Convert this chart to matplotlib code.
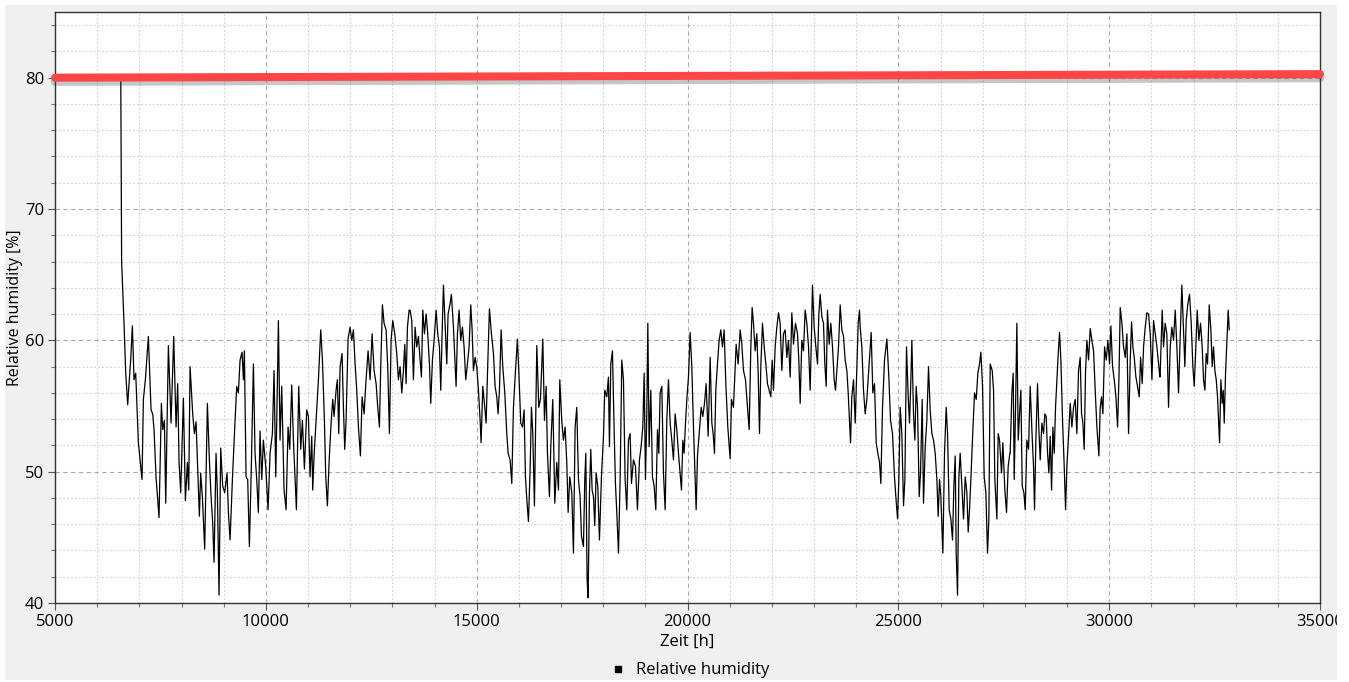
import matplotlib
matplotlib.use('Agg')
import matplotlib.pyplot as plt
import matplotlib.patheffects as pe
from matplotlib.patches import Rectangle
from matplotlib.ticker import MultipleLocator

plt.rcParams['font.family'] = ['Open Sans', 'DejaVu Sans']

# time [h] and relative humidity [%]
zeit = [
    6560, 6580, 6598, 6621, 6637, 6677, 6724, 6756, 6795, 6835, 6874, 6914, 6977, 7017, 7064, 7096,
    7143, 7214, 7278, 7317, 7349, 7396, 7467, 7523, 7554, 7594, 7626, 7689, 7752, 7815, 7871, 7910,
    7942, 7981, 8045, 8092, 8140, 8171, 8203, 8266, 8305, 8345, 8392, 8424, 8455, 8495, 8550, 8614,
    8661, 8701, 8740, 8772, 8819, 8851, 8890, 8930, 8977, 9025, 9080, 9112, 9152, 9207, 9270, 9310,
    9349, 9389, 9436, 9468, 9491, 9531, 9570, 9610, 9657, 9705, 9744, 9784, 9823,
    9863, 9903, 9942, 9997, 10053, 10100, 10156, 10195, 10235, 10258, 10298, 10337, 10377, 10432,
    10480, 10527, 10567, 10614, 10654, 10693, 10725, 10780, 10828, 10867, 10915, 10970, 11010, 11049,
    11089, 11112, 11144, 11191, 11247, 11302, 11342, 11389, 11421, 11460, 11500, 11547, 11587, 11618,
    11666, 11697, 11729, 11761, 11808, 11840, 11871, 11903, 11950, 11998, 12037, 12077, 12117, 12156,
    12196, 12243, 12283, 12330, 12377, 12425, 12472, 12520, 12567, 12615, 12654, 12694, 12725, 12765,
    12804, 12852, 12891, 12931, 12970, 13010, 13057, 13105, 13144, 13184, 13224, 13263, 13295, 13326,
    13358, 13398,
    13421, 13461, 13500, 13540, 13579, 13619, 13658, 13690, 13722, 13761, 13801, 13840, 13880, 13911,
    13951, 13990, 14038, 14077, 14117, 14149, 14180, 14212, 14251, 14291, 14322, 14370, 14401, 14449,
    14488, 14512, 14544, 14583, 14623, 14662, 14702, 14741, 14781, 14820, 14860, 14892, 14923, 14963,
    15002, 15042, 15082, 15105, 15145, 15184, 15224, 15263, 15303, 15350, 15398, 15437, 15477, 15508,
    15540, 15580, 15619, 15667, 15714, 15746, 15793, 15833, 15872, 15912, 15967, 16007, 16046, 16086,
    16125, 16157, 16189, 16228, 16268, 16299, 16331, 16370, 16426, 16473, 16513, 16568, 16608, 16647,
    16679, 16726, 16758, 16805, 16853, 16900, 16940, 16971,
    16979, 17018, 17058, 17098, 17137, 17169, 17208, 17256, 17295, 17335, 17374, 17414, 17453, 17485,
    17532, 17564, 17588, 17619, 17643, 17675, 17706, 17738, 17770, 17801, 17833, 17872, 17912, 17959,
    18007, 18038, 18086, 18125, 18149, 18181, 18220, 18260, 18291, 18323, 18363, 18402, 18442, 18481,
    18521, 18560, 18600, 18639, 18671, 18718, 18766, 18813, 18861, 18900, 18940, 18972, 19003, 19035,
    19059, 19090, 19130, 19169, 19209, 19248, 19288, 19320, 19351, 19391, 19430, 19470, 19509, 19549,
    19588, 19628, 19667, 19707, 19746, 19786, 19825, 19857, 19889, 19920, 19952, 19984, 20023, 20063,
    20102, 20142, 20181, 20205, 20237, 20284, 20324, 20363, 20403, 20442, 20490, 20529,
    20537, 20577, 20608, 20640, 20671, 20711, 20750, 20790, 20830, 20869, 20909, 20956, 21011, 21043,
    21090, 21154, 21201, 21249, 21288, 21328, 21375, 21423, 21462, 21502, 21533, 21565, 21604, 21644,
    21676, 21707, 21739, 21778, 21818, 21858, 21897, 21937, 21976, 22008, 22039, 22079, 22118, 22158,
    22197, 22237, 22277, 22316, 22356, 22395, 22435, 22474, 22514, 22561, 22609, 22640, 22672, 22711,
    22751, 22790, 22830, 22870, 22909, 22941, 22964, 23004, 23044, 23083, 23115, 23146, 23186, 23225,
    23257, 23289, 23320, 23360, 23399, 23439, 23478, 23510, 23542, 23581, 23621, 23660, 23700, 23739,
    23779, 23811, 23842, 23866, 23897, 23937, 23977, 24016, 24048, 24079,
    24095, 24135, 24174, 24214, 24253, 24308, 24356, 24395, 24435, 24475, 24514, 24554, 24585, 24625,
    24672, 24728, 24775, 24815, 24862, 24909, 24941, 24981, 25012, 25044, 25083, 25123, 25155, 25194,
    25234, 25265, 25297, 25321, 25360, 25392, 25423, 25455, 25495, 25526, 25566, 25597, 25637, 25676,
    25716, 25755, 25795, 25835, 25874, 25914, 25945, 25977, 26009, 26056, 26095, 26135, 26167, 26206,
    26246, 26285, 26317, 26349, 26372, 26404, 26436, 26467, 26507, 26546, 26586, 26625, 26657, 26688,
    26720, 26768, 26807, 26847, 26886, 26926, 26957, 26997, 27036, 27076, 27115, 27147, 27179, 27226,
    27258, 27289, 27337, 27368, 27400, 27447, 27479, 27526, 27566, 27605, 27645,
    27653, 27693, 27724, 27748, 27780, 27811, 27843, 27874, 27906, 27938, 27977, 28009, 28048, 28088,
    28127, 28167, 28206, 28230, 28262, 28301, 28333, 28365, 28404, 28444, 28475, 28507, 28539, 28570,
    28602, 28634, 28665, 28697, 28728, 28760, 28792, 28823, 28855, 28894, 28934, 28966, 28997, 29037,
    29076, 29116, 29155, 29195, 29234, 29274, 29313, 29345, 29377, 29408, 29440, 29472, 29511, 29551,
    29590, 29630, 29669, 29709, 29756, 29788, 29819, 29851, 29891, 29930, 29970, 30009, 30041, 30080,
    30120, 30160, 30199, 30231, 30262, 30302, 30341, 30381, 30421, 30460, 30500, 30531, 30563, 30594,
    30634, 30673, 30713, 30745, 30784, 30816, 30855, 30895, 30934, 30974, 31014, 31053, 31093, 31132,
    31172, 31203,
    31210, 31258, 31289, 31329, 31368, 31408, 31447, 31487, 31526, 31566, 31606, 31645, 31685, 31724,
    31764, 31795, 31827, 31866, 31906, 31946, 31985, 32017, 32056, 32088, 32127, 32167, 32206, 32238,
    32270, 32301, 32333, 32373, 32412, 32444, 32475, 32507, 32539, 32570, 32602, 32618, 32649, 32681,
    32705, 32729, 32760, 32792, 32823, 32847,
]
feuchte = [
    80.0, 66.0, 64.5, 62.7, 61.3, 57.5, 55.1, 56.7, 58.5, 61.1, 57.0, 57.5, 52.2, 50.9, 49.4, 55.5,
    57.0, 60.3, 54.7, 54.4, 53.2, 49.6, 46.5, 55.2, 53.2, 53.9, 47.6, 59.6, 53.7, 60.3, 53.4, 56.7,
    50.7, 48.4, 55.6, 47.8, 50.7, 48.6, 58.0, 54.4, 52.9, 53.8, 49.4, 46.6, 49.9, 48.1, 44.1, 55.2,
    50.9, 48.1, 46.1, 43.1, 51.4, 48.4, 40.6, 51.8, 48.9, 48.4, 49.9, 46.9, 44.8, 49.4, 53.9, 56.5,
    56.0, 58.5, 59.1, 57.0, 59.2, 49.6, 49.4, 44.3, 50.5, 58.2, 51.4, 49.4, 46.9,
    53.1, 49.4, 52.4, 50.4, 47.1, 51.4, 52.9, 57.7, 49.6, 53.7, 61.5, 52.4, 56.5, 48.6,
    47.1, 53.4, 51.7, 56.6, 52.4, 49.4, 47.1, 56.5, 51.7, 53.9, 50.2, 54.7, 54.2, 49.6,
    52.7, 48.6, 51.2, 53.9, 57.0, 60.8, 58.5, 53.9, 49.6, 47.4, 50.7, 53.7, 55.5, 54.2,
    56.2, 57.0, 52.9, 58.0, 59.0, 54.9, 51.7, 53.9, 60.1, 61.0, 60.0, 60.8, 58.2, 56.2,
    53.4, 51.2, 55.7, 54.4, 57.0, 59.2, 57.0, 60.5, 57.7, 56.7, 54.9, 53.4, 58.0, 62.7,
    61.3, 60.8, 58.0, 52.9, 60.0, 61.5, 60.5, 59.0, 57.0, 58.0, 56.0, 57.7, 59.7, 56.7,
    61.0, 62.3,
    62.3, 61.5, 57.0, 61.0, 59.5, 60.3, 58.5, 57.2, 62.3, 60.5, 62.0, 60.5, 58.2, 55.2,
    58.5, 60.0, 62.3, 60.5, 59.5, 56.2, 60.5, 64.2, 61.3, 58.2, 62.0, 62.8, 63.5, 61.0,
    58.2, 56.5, 60.5, 62.3, 60.0, 61.0, 59.5, 57.0, 58.2, 59.5, 62.7, 60.8, 57.7, 58.7,
    58.0, 56.2, 53.9, 52.2, 56.5, 55.2, 53.7, 58.2, 62.4, 60.5, 59.0, 56.5, 55.7, 54.4,
    56.2, 60.8, 58.0, 56.0, 52.9, 51.4, 50.9, 49.1, 54.9, 57.2, 60.1, 57.0, 53.7, 53.4,
    54.7, 49.6, 47.9, 46.2, 50.2, 54.9, 52.9, 47.4, 59.6, 54.9, 55.5, 60.1, 53.9, 56.5,
    51.4, 48.1, 51.9, 55.5, 47.6, 50.7, 48.6, 57.0,
    56.5, 53.9, 52.4, 53.4, 50.7, 46.9, 49.6, 48.4, 43.8, 53.4, 54.9, 49.4, 48.1, 45.1,
    44.3, 49.4, 51.4, 41.8, 40.4, 48.4, 51.7, 48.6, 48.1, 45.9, 49.9, 48.9, 44.8, 49.6,
    52.7, 56.2, 55.7, 57.2, 51.9, 58.2, 59.2, 53.2, 49.1, 46.9, 43.8, 49.4, 58.5, 57.0,
    49.4, 47.1, 52.4, 52.9, 49.1, 50.9, 50.4, 47.1, 50.9, 51.9, 53.4, 57.5, 49.4, 54.4,
    61.3, 51.9, 56.2, 49.6, 48.9, 47.1, 53.2, 51.4, 56.0, 56.5, 49.9, 47.1, 53.9, 57.0,
    53.7, 52.4, 50.9, 54.4, 53.2, 51.4, 49.9, 48.6, 52.4, 51.4, 53.7, 55.5, 57.2, 60.6,
    58.0, 53.4, 49.4, 47.1, 51.2, 53.2, 54.9, 54.2, 55.2, 56.7, 52.7, 57.7,
    58.7, 53.7, 52.9, 51.4, 56.2, 58.2, 60.0, 60.8, 59.5, 60.8, 56.7, 53.4, 51.0, 55.5,
    54.9, 59.7, 58.2, 60.8, 59.7, 57.7, 57.0, 54.9, 53.2, 59.5, 62.5, 61.3, 59.2, 60.5,
    57.5, 52.9, 58.0, 61.3, 59.5, 58.2, 56.7, 56.2, 55.7, 58.5, 56.2, 59.5, 61.0, 62.1,
    61.3, 57.7, 60.5, 60.8, 58.7, 60.0, 57.2, 62.1, 59.7, 61.3, 60.5, 58.5, 55.2, 60.0,
    59.2, 62.3, 61.3, 59.5, 56.2, 60.5, 64.2, 61.0, 59.5, 58.2, 62.0, 63.5, 61.8, 61.3,
    58.2, 56.5, 62.3, 59.7, 61.3, 59.5, 57.0, 56.2, 57.7, 59.5, 62.7, 60.8, 60.3, 58.5,
    57.7, 56.0, 53.9, 52.2, 55.7, 57.0, 53.7, 58.0, 61.3, 62.3,
    61.0, 59.5, 56.2, 54.4, 55.5, 58.2, 60.6, 56.0, 56.7, 52.2, 51.4, 50.7, 49.1, 54.9,
    58.5, 60.1, 57.2, 53.9, 52.9, 49.6, 48.1, 46.4, 49.4, 54.9, 52.9, 47.4, 49.4, 59.5,
    55.7, 53.7, 57.0, 60.0, 54.4, 52.4, 56.5, 54.9, 48.1, 49.9, 55.5, 47.6, 51.9, 53.9,
    58.0, 54.7, 52.9, 52.4, 51.4, 49.4, 46.6, 49.4, 48.1, 43.8, 51.4, 54.9, 52.9, 47.1,
    46.4, 44.8, 48.9, 51.2, 43.8, 40.6, 49.6, 51.4, 48.9, 46.4, 49.6, 48.4, 45.4, 47.1,
    49.4, 53.2, 56.0, 55.5, 57.5, 58.2, 59.1, 56.5, 49.6, 48.4, 43.8, 46.4, 58.2, 57.7,
    56.2, 49.4, 46.4, 52.9, 52.4, 49.9, 52.2, 48.6, 46.9, 50.4, 51.4,
    51.4, 56.0, 57.5, 49.4, 54.9, 61.3, 52.4, 54.4, 56.2, 48.9, 48.4, 47.1, 52.4, 51.7,
    56.5, 53.2, 50.4, 47.1, 52.4, 56.7, 53.2, 50.9, 53.7, 52.9, 54.4, 54.2, 51.4, 49.9,
    52.7, 48.6, 53.4, 51.4, 54.9, 57.0, 59.0, 60.6, 58.5, 53.9, 50.4, 47.1, 50.4, 52.7,
    55.2, 53.4, 54.9, 55.5, 52.9, 57.7, 58.7, 54.4, 53.7, 51.7, 57.7, 60.0, 58.5, 60.9,
    60.0, 59.2, 56.2, 53.4, 51.2, 54.9, 55.7, 54.4, 59.5, 58.5, 60.0, 58.2, 61.1, 58.0,
    57.0, 55.7, 53.4, 57.0, 62.5, 61.3, 59.5, 58.7, 60.5, 52.9, 58.5, 61.4, 59.5, 58.7,
    57.2, 56.5, 55.7, 58.7, 56.7, 59.5, 61.0, 62.1, 62.0, 60.5, 57.0, 61.5, 60.5, 59.5,
    58.2, 57.2,
    57.5, 62.3, 59.5, 61.3, 60.5, 54.9, 59.5, 61.0, 60.0, 62.3, 59.5, 56.0, 60.3, 64.2,
    60.8, 58.0, 61.5, 62.8, 63.5, 61.3, 58.0, 56.5, 59.5, 62.3, 60.0, 61.3, 59.5, 57.0,
    56.2, 59.0, 58.2, 62.7, 60.8, 58.0, 59.5, 57.7, 57.0, 55.7, 53.4, 52.2, 57.0, 55.2,
    56.2, 53.7, 57.5, 60.0, 62.3, 60.8,
]

# 80 % limit line
grenz_x = [5000, 35000]
grenz_y = [80.0, 80.27]

fig = plt.figure(figsize=(13.49, 6.82), dpi=100, facecolor='white')
fig.patches.append(Rectangle((5 / 1349, 2 / 682), 1332 / 1349, 675 / 682,
                             transform=fig.transFigure, facecolor='#f0f0f0',
                             edgecolor='none', zorder=-10))
fig.patches.append(Rectangle((1337 / 1349, 0), 12 / 1349, 1,
                             transform=fig.transFigure, facecolor='white',
                             edgecolor='none', zorder=10))

ax = fig.add_axes([55 / 1349, 1 - 603 / 682, 1265 / 1349, 591 / 682])
ax.set_facecolor('white')

ax.plot(zeit, feuchte, color='black', lw=0.9, label='Relative humidity', zorder=3)
ax.plot(grenz_x, grenz_y, color='#ff4646', lw=5.8, solid_capstyle='round', clip_on=False,
        zorder=4,
        path_effects=[pe.SimpleLineShadow(offset=(0, -3), shadow_color='#444444', alpha=0.3),
                      pe.Normal()])

ax.set_xlim(5000, 35000)
ax.set_ylim(40, 85)
ax.xaxis.set_major_locator(MultipleLocator(5000))
ax.xaxis.set_minor_locator(MultipleLocator(1000))
ax.yaxis.set_major_locator(MultipleLocator(10))
ax.yaxis.set_minor_locator(MultipleLocator(2))

ax.grid(True, which='major', color='#aaaaaa', ls=(0, (4, 3)), lw=0.8)
ax.grid(True, which='minor', color='#cfcfcf', ls=(0, (1.5, 2)), lw=0.8)
ax.set_axisbelow(True)

for s in ax.spines.values():
    s.set_color('#333333')
    s.set_linewidth(1.0)

ax.tick_params(which='major', length=5, width=0.8, color='#555555', labelsize=12, pad=3)
ax.tick_params(which='minor', length=3, width=0.8, color='#777777')

ax.set_xlabel('Zeit [h]', fontsize=12, labelpad=3)
ax.set_ylabel('Relative humidity [%]', fontsize=11.5, labelpad=1)

ax.legend(handles=[plt.Line2D([], [], color='black', marker='s', markersize=5, ls='none')],
          labels=['Relative humidity'], loc='center', bbox_to_anchor=(0.511, 0.017),
          bbox_transform=fig.transFigure, frameon=False, fontsize=12,
          handlelength=1.0, handletextpad=0.6)

plt.savefig('out.png', dpi=100, facecolor=fig.get_facecolor())
